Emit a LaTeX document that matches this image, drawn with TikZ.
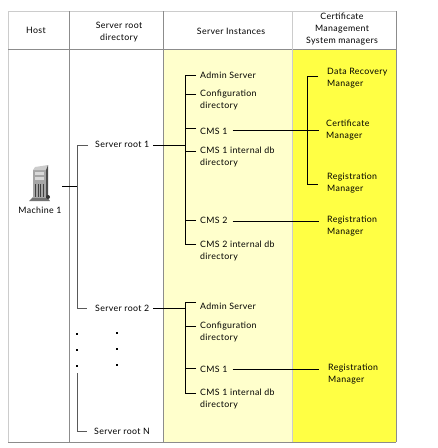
\documentclass[tikz,border=0pt]{standalone}
\usepackage{fontspec}
\setmainfont[LetterSpace=4]{Lato}
\usetikzlibrary{positioning}

\definecolor{palecol}{HTML}{FFFFCC}
\definecolor{brightcol}{HTML}{FFFF44}

\begin{document}
\begin{tikzpicture}[
  x=1pt, y=-1pt,
  item/.style={inner sep=0pt, anchor=north west, align=left, font=\fontsize{8.8}{12}\selectfont, execute at begin node={\rule{0pt}{7pt}}},
  head/.style={inner sep=0pt, align=center, font=\fontsize{8.8}{12}\selectfont},
  grid/.style={draw=black!45, line width=0.8pt},
  lightgrid/.style={draw=black!20, line width=1pt},
  tree/.style={draw=black, line width=0.7pt},
  roottree/.style={draw=black!65, line width=0.8pt},
  dotmark/.style={fill=black, minimum size=1.2pt, inner sep=0pt}
]
  \useasboundingbox (0,0) rectangle (438,448);

  % columns
  \fill[palecol] (163,49) rectangle (292,442);
  \fill[brightcol] (292,49) rectangle (396,442);
  \draw[lightgrid] (8,11) -- (396,11);
  \draw[lightgrid] (8,11) -- (8,442);
  \draw[grid] (8,442) -- (396,442);
  \draw[grid] (8,49) -- (396,49);
  \draw[grid] (69,11) -- (69,442);
  \draw[grid] (163,11) -- (163,442);
  \draw[lightgrid] (292,11) -- (292,442);
  \draw[grid] (396,11) -- (396,442);

  % headers
  \node[head] (hhost) at (36,30) {Host};
  \node[head] (hroot) at (119,32) {Server root\\directory};
  \node[head] (hinst) at (231,31) {Server Instances};
  \node[head] (hcms) at (342,29) {Certificate\\Management\\System managers};

  % machine
  \node[inner sep=0pt, minimum width=42pt, minimum height=40pt] (srv) at (41,186) {};
  \node[item, below=0pt of srv, anchor=north, xshift=-1pt] (mach) {Machine 1};
  \fill[black!55] (29,201) -- (33,197) -- (47,197) -- (50,201) -- cycle;
  \fill[black!35] (33,170) -- (46,170) -- (46,198) -- (33,198) -- cycle;
  \fill[black!20] (33,170) -- (35,167) -- (48,165) -- (46,170) -- cycle;
  \fill[black!70] (46,170) -- (48,165) -- (48,197) -- (46,198) -- cycle;
  \fill[black!15] (35,172) rectangle (44,175);
  \fill[black!15] (35,177) rectangle (44,180);
  \foreach \i in {35,37.5,40,42.5}
    \fill[black!75] (\i,184) rectangle ++(1.4,13);
  \fill[black!80] (48,197) circle (2pt);

  % server roots
  \node[item] (sra) at (95,140) {Server root 1};
  \node[item, below=164pt of sra.north west, anchor=north west] (srb) {Server root 2};
  \node[item, below=123pt of srb.north west, anchor=north west, xshift=-1pt] (srn) {Server root N};
  \foreach \dx/\dy in {77/334,77/350,77/366,117/333,117/349,117/365}
    \node[dotmark] at (\dx,\dy) {};

  % server instances
  \node[item, right=105pt of sra.north west, anchor=north west, yshift=69pt] (adma) {Admin Server};
  \node[item, below=19pt of adma.north west, anchor=north west] (cfga) {Configuration\\directory};
  \node[item, below=37pt of cfga.north west, anchor=north west] (cmsa) {CMS 1};
  \node[item, below=20pt of cmsa.north west, anchor=north west] (dba) {CMS 1 internal db\\directory};
  \node[item, below=69pt of dba.north west, anchor=north west] (cmsb) {CMS 2};
  \node[item, below=25pt of cmsb.north west, anchor=north west] (dbb) {CMS 2 internal db\\directory};

  \node[item, right=105pt of srb.north west, anchor=north west, yshift=2pt] (admb) {Admin Server};
  \node[item, below=20pt of admb.north west, anchor=north west] (cfgb) {Configuration\\directory};
  \node[item, below=43pt of cfgb.north west, anchor=north west] (cmsc) {CMS 1};
  \node[item, below=24pt of cmsc.north west, anchor=north west] (dbc) {CMS 1 internal db\\directory};

  % managers
  \node[item, right=127pt of adma.north west, anchor=north west, yshift=3pt] (drm) {Data Recovery\\Manager};
  \node[item, below=52pt of drm.north west, anchor=north west, xshift=-1pt] (cert) {Certificate\\Manager};
  \node[item, below=53pt of cert.north west, anchor=north west, xshift=1pt] (rega) {Registration\\Manager};
  \node[item, right=127pt of cmsb.north west, anchor=north west] (regb) {Registration\\Manager};
  \node[item, right=128pt of cmsc.north west, anchor=north west, yshift=1pt] (regc) {Registration\\Manager};

  % root tree
  \coordinate (roota) at ([shift={(-18pt,-5pt)}]sra.north west);
  \coordinate (rootb) at ([shift={(-18pt,-4pt)}]srb.north west);
  \coordinate (rootn) at ([shift={(-17pt,-4pt)}]srn.north west);
  \draw[roottree] ([xshift=11pt]roota) -- (roota) -- (rootb) -- ([xshift=10pt]rootb);
  \draw[tree] (srv.east) -- (srv.east -| roota);
  \draw[roottree] ([yshift=58pt]rootn) -- (rootn) -- ([xshift=10pt]rootn);

  % instance trees
  \coordinate (insta) at ([shift={(-15pt,-4pt)}]adma.north west);
  \coordinate (instb) at ([xshift=-15pt]admb.north west);
  \draw[tree] (insta) -- ([yshift=-3pt]insta |- dbb.north);
  \draw[tree] (instb) -- ([yshift=-4pt]instb |- dbc.north);
  \foreach \n/\d in {adma/4,cfga/4,cmsa/1,dba/4,cmsb/4,dbb/3,admb/0,cfgb/4,cmsc/3,dbc/4}
    \draw[tree] ([shift={(-4pt,-\d pt)}]\n.north west) -- ++(-11pt,0);
  \draw[tree] ([xshift=4pt]sra.east |- roota) -- (insta |- roota);
  \draw[tree] ([xshift=4pt]srb.east |- rootb) -- (instb |- rootb);

  % manager links
  \coordinate (mgra) at ([shift={(-20pt,-8pt)}]drm.north west);
  \draw[tree] ([shift={(-9pt,-8pt)}]drm.north west) -- (mgra) |- ([shift={(-9pt,-11pt)}]rega.north west);
  \draw[tree] ([shift={(5pt,-3pt)}]cmsa.north east) -- ([shift={(-7pt,-10pt)}]cert.north west);
  \draw[tree] ([shift={(5pt,-5pt)}]cmsb.north east) -- ([shift={(-8pt,-5pt)}]regb.north west);
  \draw[tree] ([shift={(5pt,-4pt)}]cmsc.north east) -- ([shift={(-9pt,-5pt)}]regc.north west);
\end{tikzpicture}
\end{document}
